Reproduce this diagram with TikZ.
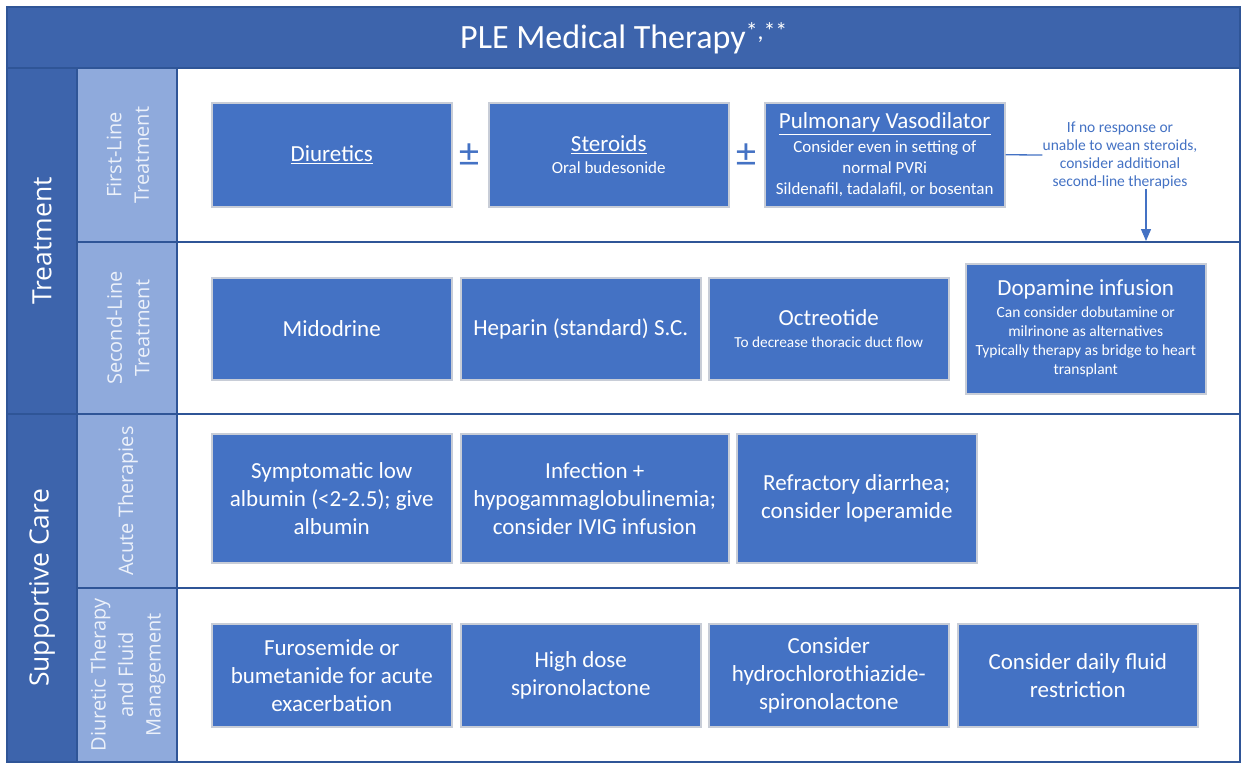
\documentclass[tikz,border=0pt]{standalone}
\usepackage{fontspec}
\setmainfont{Carlito}
\newfontfamily\labelfont{Open Sans}
\usetikzlibrary{arrows.meta}

\definecolor{bandblue}{RGB}{61,100,172}
\definecolor{paleblue}{RGB}{143,170,220}
\definecolor{boxblue}{RGB}{68,114,196}
\definecolor{gridblue}{RGB}{47,85,151}
\definecolor{boxedge}{RGB}{200,205,215}
\definecolor{labeltext}{RGB}{236,241,250}

\newcommand{\fsz}[2]{\fontsize{#1}{#2}\selectfont}

\tikzset{
  medbox/.style={draw=boxedge, line width=1.5pt, fill=boxblue, text=white,
    align=center, inner sep=0pt, anchor=north west, font=\fsz{23}{28}},
  grid/.style={draw=gridblue, line width=1.4pt},
  grouplabel/.style={rotate=90, text=white, font=\labelfont\fsz{26.5}{30}},
  rowlabel/.style={rotate=90, text=labeltext, align=center, font=\labelfont\fsz{20}{27.5}},
  plusminus/.style={text=boxblue, inner sep=0pt, font=\fsz{40}{40}},
  notetext/.style={text=boxblue, align=center, inner sep=0pt, font=\fsz{15.5}{18}},
  conn/.style={draw=boxblue, line width=1.3pt}
}

\begin{document}
\begin{tikzpicture}[x=1pt, y=-1pt]
\useasboundingbox (0,0) rectangle (1242,764);

% background bands and columns
\fill[white] (7,68) rectangle (1240,762);
\fill[bandblue] (7,7) rectangle (1240,68);
\fill[bandblue] (7,68) rectangle (77,762);
\fill[paleblue] (77,68) rectangle (177,762);

% grid lines
\draw[grid] (7,7) rectangle (1240,762);
\draw[grid] (7,68) -- (1240,68);
\draw[grid] (77,68) -- (77,762);
\draw[grid] (177,68) -- (177,762);
\draw[grid] (77,242) -- (1240,242);
\draw[grid] (7,414) -- (1240,414);
\draw[grid] (77,588) -- (1240,588);

% title
\node[text=white, font=\fsz{34}{40}] (title) at (624,38) {PLE Medical Therapy\textsuperscript{*,**}};

% group labels
\node[grouplabel] (gtreat) at (42,241) {Treatment};
\node[grouplabel] (gsupp) at (42,588) {Supportive Care};

% row labels
\node[rowlabel] (rfirst) at (128,155) {First-Line\\Treatment};
\node[rowlabel] (rsecond) at (128,328) {Second-Line\\Treatment};
\node[rowlabel] (racute) at (128,501) {Acute Therapies};
\node[rowlabel] (rdiur) at (128,675) {Diuretic Therapy\\and Fluid\\Management};

% first-line treatment
\node[medbox, minimum width=240pt, minimum height=104pt] (diur) at (211,102) {\underline{Diuretics}};
\node[plusminus] (pm1) at (469,155) {±};
\node[medbox, minimum width=240pt, minimum height=104pt, font=\fsz{23}{22}] (ster) at (488,102)
  {\underline{Steroids}\\{\fsz{17}{20}Oral budesonide}};
\node[plusminus] (pm2) at (746,155) {±};
\node[medbox, minimum width=240pt, minimum height=104pt, font=\fsz{23}{21}] (pulm) at (764,102)
  {\underline{Pulmonary Vasodilator}\\[3pt]{\fsz{17}{20}Consider even in setting of}\\{\fsz{17}{20}normal PVRi}\\{\fsz{17}{20}Sildenafil, tadalafil, or bosentan}};

\node[notetext] (note) at (1120,155) {If no response or\\unable to wean steroids,\\consider additional\\second-line therapies};
\draw[conn] (pulm.east) -- (note.west);
\coordinate (arrowtip) at (1146,241);
\draw[conn, -{Triangle[width=10pt,length=12pt]}] (note.south -| arrowtip) -- (arrowtip);

% second-line treatment
\node[medbox, minimum width=240pt, minimum height=102pt] (mido) at (211,277) {Midodrine};
\node[medbox, minimum width=240pt, minimum height=102pt] (hepa) at (460,277) {Heparin (standard) S.C.};
\node[medbox, minimum width=240pt, minimum height=102pt, font=\fsz{23}{22}] (octr) at (708,277)
  {Octreotide\\{\fsz{15.3}{18}To decrease thoracic duct flow}};
\node[medbox, minimum width=240pt, minimum height=130pt, font=\fsz{23}{19}] (dopa) at (965,263)
  {Dopamine infusion\\[3pt]{\fsz{15.5}{18}Can consider dobutamine or}\\{\fsz{15.5}{18}milrinone as alternatives}\\{\fsz{15.5}{18}Typically therapy as bridge to heart}\\{\fsz{15.5}{18}transplant}};

% acute therapies
\node[medbox, minimum width=240pt, minimum height=129pt] (symp) at (211,433)
  {Symptomatic low\\albumin (<2-2.5); give\\albumin};
\node[medbox, minimum width=268pt, minimum height=129pt] (infe) at (460,433)
  {Infection +\\hypogammaglobulinemia;\\consider IVIG infusion};
\node[medbox, minimum width=240pt, minimum height=129pt] (refr) at (736,433)
  {Refractory diarrhea;\\consider loperamide};

% diuretic therapy and fluid management
\node[medbox, minimum width=240pt, minimum height=103pt] (furo) at (211,623)
  {Furosemide or\\bumetanide for acute\\exacerbation};
\node[medbox, minimum width=240pt, minimum height=103pt] (spir) at (460,623)
  {High dose\\spironolactone};
\node[medbox, minimum width=240pt, minimum height=103pt] (hydr) at (708,623)
  {Consider\\hydrochlorothiazide-\\spironolactone};
\node[medbox, minimum width=240pt, minimum height=103pt] (flui) at (957,623)
  {Consider daily fluid\\restriction};
\end{tikzpicture}
\end{document}
